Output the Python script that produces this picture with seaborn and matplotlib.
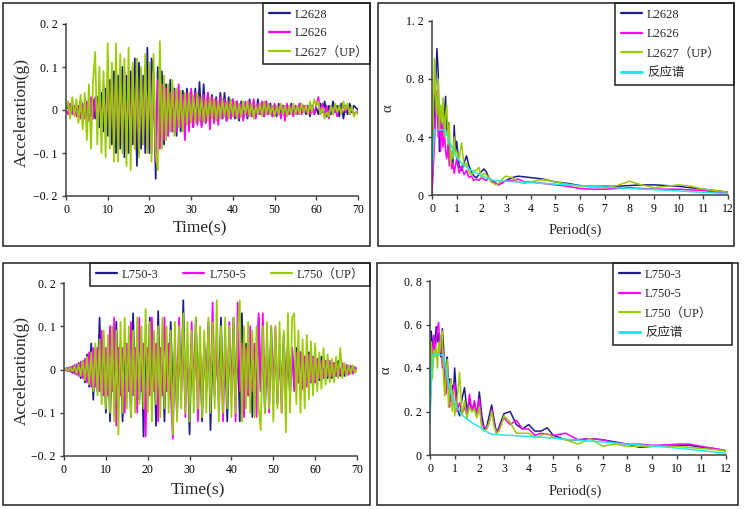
import numpy as np
import pandas as pd
import matplotlib
matplotlib.use("Agg")
import matplotlib.pyplot as plt
import matplotlib.ticker as mticker
from matplotlib.patches import Rectangle
import seaborn as sns

# ── data: accelerograms (sampled every 0.5 s, 0-70 s) ─────────────────────────
TIME_S = np.arange(0, 70.01, 0.5)

L2628 = [
    0.0, 0.01, -0.01, 0.015, -0.01, 0.01, -0.015, 0.02, -0.01, 0.015,
    -0.02, 0.02, -0.015, 0.025, -0.02, 0.03, -0.04, 0.04, -0.05, 0.05,
    -0.06, 0.07, -0.08, 0.09, -0.1, 0.08, -0.09, 0.1, -0.11, 0.08,
    -0.1, 0.09, -0.08, 0.12, -0.13, 0.11, -0.09, 0.08, -0.1, 0.145,
    -0.1, 0.12, 0.08, -0.16, 0.1, -0.07, 0.09, -0.08, 0.06, -0.06,
    0.07, -0.05, 0.05, -0.06, 0.04, -0.05, 0.045, -0.035, 0.05, -0.04,
    0.045, -0.04, 0.05, -0.03, 0.065, -0.035, 0.06, -0.03, 0.04, -0.03,
    0.035, -0.03, 0.03, -0.025, 0.04, -0.02, 0.04, -0.025, 0.03, -0.02,
    0.025, -0.02, 0.02, -0.025, 0.02, -0.02, 0.015, -0.02, 0.025, -0.015,
    0.02, -0.015, 0.025, -0.01, 0.015, -0.015, 0.02, -0.01, 0.015, -0.015,
    0.01, -0.015, 0.015, -0.01, 0.01, -0.015, 0.01, -0.01, 0.015, -0.01,
    0.01, -0.01, 0.015, -0.005, 0.01, -0.01, 0.01, -0.015, 0.01, -0.01,
    0.005, -0.01, 0.015, -0.005, 0.02, -0.015, 0.01, -0.01, 0.02, -0.005,
    0.01, -0.015, 0.015, -0.02, 0.01, -0.01, 0.015, -0.005, 0.01, 0.005,
    0.0,
]
L2626 = [
    0.0, -0.01, 0.015, -0.01, 0.01, -0.015, 0.01, -0.02, 0.015, -0.02,
    0.02, -0.025, 0.03, -0.02, 0.03, -0.035, 0.04, -0.05, 0.06, -0.05,
    0.07, -0.06, 0.08, -0.07, 0.1, -0.09, 0.075, -0.08, 0.09, -0.1,
    0.08, -0.07, 0.1, -0.09, 0.08, -0.1, 0.09, -0.08, 0.1, -0.09,
    0.09, -0.1, 0.08, -0.12, 0.07, -0.09, 0.06, -0.07, 0.05, -0.06,
    0.04, -0.05, 0.045, -0.05, 0.06, -0.04, 0.035, -0.07, 0.04, -0.05,
    0.05, -0.04, 0.04, -0.035, 0.03, -0.04, 0.035, -0.03, 0.04, -0.045,
    0.03, -0.03, 0.025, -0.035, 0.03, -0.02, 0.025, -0.025, 0.02, -0.02,
    0.025, -0.015, 0.02, -0.02, 0.015, -0.025, 0.02, -0.015, 0.02, -0.015,
    0.025, -0.02, 0.015, -0.01, 0.02, -0.015, 0.02, -0.01, 0.01, -0.015,
    0.015, -0.01, 0.01, -0.02, 0.01, -0.025, 0.015, -0.01, 0.01, -0.015,
    0.01, -0.01, 0.015, -0.01, 0.01, -0.005, 0.01, -0.01, 0.005, -0.01,
    0.01, 0.03, -0.01, 0.015, -0.015, 0.01, -0.02, 0.01, -0.01, 0.005,
    -0.015, 0.01, -0.01, 0.015, -0.005, 0.01, -0.01, 0.005, -0.01, -0.005,
    -0.005,
]
L2627_UP = [
    0.0, 0.02, -0.02, 0.03, -0.015, 0.025, -0.03, 0.035, -0.045, 0.04,
    -0.07, 0.06, -0.09, 0.07, 0.135, -0.08, 0.1, -0.1, 0.09, -0.11,
    0.155, -0.09, 0.11, -0.12, 0.155, -0.12, 0.13, -0.1, 0.12, -0.13,
    0.145, -0.14, 0.11, -0.09, 0.12, -0.11, 0.1, -0.08, 0.13, -0.1,
    0.11, -0.12, 0.13, -0.1, -0.14, 0.16, -0.09, 0.08, -0.07, 0.06,
    -0.05, 0.07, -0.06, 0.05, -0.04, 0.045, -0.05, 0.04, -0.035, 0.04,
    -0.03, 0.035, -0.03, 0.04, -0.025, 0.03, -0.03, 0.025, -0.025, 0.03,
    -0.02, 0.025, -0.025, 0.02, -0.02, 0.025, -0.015, 0.02, -0.02, 0.025,
    -0.015, 0.02, -0.02, 0.015, -0.015, 0.02, -0.01, 0.02, -0.015, 0.015,
    -0.02, 0.01, -0.01, 0.015, -0.015, 0.02, -0.01, 0.015, -0.01, 0.01,
    -0.015, 0.01, -0.01, 0.015, -0.01, 0.01, -0.015, 0.01, -0.01, 0.015,
    -0.01, 0.01, -0.01, 0.015, -0.005, 0.01, -0.01, 0.02, -0.005, 0.025,
    0.01, 0.02, -0.01, 0.005, -0.02, -0.005, -0.015, 0.01, -0.01, 0.015,
    -0.005, 0.01, -0.01, 0.02, 0.0, 0.015, -0.01, 0.01, -0.015, -0.005,
    -0.01,
]

L750_3 = [
    0.0, 0.003, -0.004, 0.006, -0.008, 0.01, -0.012, 0.015, -0.02, 0.02,
    -0.03, 0.035, -0.04, 0.06, -0.07, 0.05, -0.05, 0.12, -0.06, 0.05,
    -0.1, 0.06, -0.12, 0.05, -0.06, 0.11, -0.05, 0.06, -0.12, 0.05,
    -0.06, 0.05, -0.11, 0.13, -0.06, 0.05, -0.07, 0.06, -0.155, 0.05,
    -0.06, 0.12, -0.05, 0.06, -0.13, 0.135, -0.06, 0.05, -0.12, 0.06,
    -0.05, 0.11, -0.06, 0.05, -0.11, 0.06, -0.05, 0.16, -0.06, 0.05,
    -0.15, 0.06, -0.05, 0.12, -0.06, 0.05, -0.12, 0.06, -0.05, 0.11,
    -0.14, 0.05, -0.06, 0.06, -0.05, 0.12, -0.06, 0.05, -0.12, 0.06,
    -0.05, 0.12, -0.06, 0.05, -0.12, 0.13, -0.05, 0.06, -0.06, 0.05,
    -0.11, 0.05, -0.06, 0.12, -0.05, 0.06, -0.1, 0.05, -0.06, 0.1,
    -0.05, 0.06, -0.08, 0.05, -0.05, 0.08, -0.05, 0.04, -0.06, 0.05,
    -0.04, 0.05, -0.03, 0.04, -0.04, 0.03, -0.03, 0.04, -0.03, 0.03,
    -0.03, 0.02, -0.025, 0.03, -0.02, 0.02, -0.02, 0.015, -0.02, 0.015,
    -0.015, 0.02, -0.015, 0.01, -0.015, 0.01, -0.01, 0.008, -0.008, 0.005,
    0.0,
]
L750_5 = [
    0.0, -0.002, 0.004, -0.005, 0.008, -0.01, 0.012, -0.015, 0.018, -0.02,
    0.025, -0.03, 0.04, -0.04, 0.05, -0.04, 0.05, -0.05, 0.09, -0.06,
    0.05, -0.06, 0.1, -0.05, 0.12, -0.13, 0.05, -0.06, 0.05, -0.1,
    0.06, -0.05, 0.11, -0.06, 0.05, -0.1, 0.12, -0.05, 0.06, -0.155,
    0.05, -0.06, 0.12, -0.05, 0.06, -0.12, 0.05, -0.06, 0.12, -0.05,
    0.06, -0.05, -0.16, 0.05, -0.06, 0.12, -0.05, 0.06, -0.11, 0.05,
    -0.06, 0.11, -0.05, 0.06, -0.12, 0.05, -0.06, 0.06, -0.05, 0.1,
    -0.06, 0.155, -0.05, 0.06, -0.1, 0.05, -0.12, 0.06, -0.05, 0.11,
    -0.06, 0.05, -0.12, 0.155, -0.05, 0.06, -0.11, 0.05, -0.06, 0.1,
    -0.05, 0.06, -0.11, 0.13, -0.05, 0.13, -0.06, 0.05, -0.1, 0.06,
    -0.05, 0.1, -0.06, 0.05, -0.1, 0.05, -0.06, 0.07, -0.04, 0.05,
    -0.05, 0.04, -0.03, 0.04, -0.045, 0.03, -0.04, 0.035, -0.03, 0.03,
    -0.03, 0.025, -0.02, 0.02, -0.02, 0.02, -0.015, 0.02, -0.015, 0.015,
    -0.015, 0.01, -0.01, 0.015, -0.01, 0.01, -0.012, 0.008, -0.01, 0.005,
    0.0,
]
L750_UP = [
    0.0, 0.002, -0.003, 0.005, -0.005, 0.008, -0.01, 0.012, -0.015, 0.02,
    -0.025, 0.03, -0.035, 0.04, -0.05, 0.06, -0.06, 0.07, -0.08, 0.09,
    -0.09, 0.08, -0.1, 0.1, -0.12, 0.09, -0.15, 0.11, -0.1, 0.12,
    -0.09, 0.1, -0.11, 0.09, -0.1, 0.12, -0.08, 0.1, -0.09, 0.14,
    -0.1, 0.11, -0.12, 0.09, -0.08, 0.1, -0.11, 0.12, -0.09, 0.1,
    -0.1, 0.09, -0.15, 0.11, -0.12, 0.1, -0.09, 0.13, -0.1, 0.11,
    -0.12, 0.09, -0.1, 0.12, -0.09, 0.1, -0.11, 0.09, -0.1, 0.12,
    -0.1, 0.11, -0.09, 0.16, -0.12, 0.1, -0.1, 0.12, -0.09, 0.1,
    -0.11, 0.12, -0.1, 0.09, 0.16, -0.12, 0.1, -0.09, 0.11, -0.1,
    0.09, -0.11, 0.1, -0.09, -0.14, 0.1, -0.1, 0.11, -0.09, 0.1,
    -0.12, 0.1, -0.09, 0.11, -0.1, 0.09, -0.145, 0.13, -0.1, 0.12,
    0.13, -0.08, 0.09, -0.1, 0.07, -0.09, 0.08, -0.07, 0.065, -0.06,
    0.06, -0.05, 0.04, -0.045, 0.05, -0.035, 0.035, -0.03, 0.025, -0.03,
    0.03, -0.02, 0.05, -0.02, 0.015, -0.015, 0.01, -0.01, 0.01, -0.008,
    0.0,
]

# ── data: response spectra ────────────────────────────────────────────────────
PERIOD_S = [
    0.0, 0.05, 0.1, 0.15, 0.2, 0.25, 0.3, 0.35, 0.4, 0.45,
    0.5, 0.55, 0.6, 0.65, 0.7, 0.75, 0.8, 0.85, 0.9, 0.95,
    1.0,
    1.1, 1.2, 1.3, 1.4, 1.5, 1.6, 1.7, 1.8, 1.9, 2.0,
    2.1, 2.2, 2.3, 2.4, 2.5, 2.6, 2.7, 2.8, 2.9, 3.0,
    3.25, 3.5, 3.75, 4.0, 4.25, 4.5, 4.75, 5.0,
    5.5, 6.0, 6.5, 7.0, 7.5, 8.0, 8.5, 9.0, 9.5, 10.0, 10.5, 11.0, 11.5, 12.0,
]

SA_L2628 = [
    0.0, 0.35, 0.6, 0.78, 1.01, 0.85, 0.3, 0.55, 0.45, 0.35,
    0.55, 0.68, 0.42, 0.5, 0.35, 0.25, 0.3, 0.22, 0.48, 0.3,
    0.37,
    0.2, 0.17, 0.22, 0.27, 0.2, 0.16, 0.13, 0.12, 0.14, 0.16,
    0.18, 0.16, 0.12, 0.1, 0.09, 0.08, 0.07, 0.08, 0.09, 0.1,
    0.12, 0.13, 0.125, 0.12, 0.115, 0.11, 0.1, 0.09,
    0.08, 0.065, 0.06, 0.06, 0.06, 0.065, 0.07, 0.07, 0.065, 0.06, 0.05, 0.04, 0.03, 0.02,
]
SA_L2626 = [
    0.0, 0.18, 0.35, 0.55, 0.72, 0.4, 0.6, 0.3, 0.5, 0.33,
    0.45, 0.3, 0.25, 0.35, 0.2, 0.28, 0.18, 0.22, 0.15, 0.2,
    0.25,
    0.15, 0.2, 0.14, 0.17, 0.12, 0.13, 0.1, 0.11, 0.1, 0.12,
    0.11, 0.1, 0.12, 0.09, 0.1, 0.08, 0.07, 0.08, 0.09, 0.1,
    0.1, 0.11, 0.09, 0.09, 0.085, 0.08, 0.075, 0.07,
    0.06, 0.045, 0.04, 0.04, 0.045, 0.05, 0.045, 0.04, 0.04, 0.04, 0.035, 0.03, 0.02, 0.01,
]
SA_L2627_UP = [
    0.17, 0.5, 0.94, 0.7, 0.55, 0.8, 0.45, 0.62, 0.5, 0.67,
    0.4, 0.55, 0.62, 0.35, 0.5, 0.2, 0.3, 0.25, 0.4, 0.28,
    0.3,
    0.25, 0.36, 0.2, 0.22, 0.16, 0.14, 0.17, 0.17, 0.19, 0.12,
    0.15, 0.14, 0.12, 0.09, 0.08, 0.07, 0.08, 0.1, 0.12, 0.13,
    0.12, 0.09, 0.08, 0.09, 0.1, 0.105, 0.1, 0.09,
    0.075, 0.06, 0.055, 0.05, 0.065, 0.095, 0.07, 0.05, 0.06, 0.07, 0.06, 0.04, 0.03, 0.02,
]

SA_L750_3 = [
    0.18, 0.57, 0.48, 0.55, 0.5, 0.59, 0.52, 0.56, 0.48, 0.45,
    0.58, 0.5, 0.3, 0.42, 0.45, 0.3, 0.35, 0.25, 0.32, 0.28,
    0.4,
    0.22, 0.18, 0.26, 0.31, 0.2, 0.25, 0.2, 0.24, 0.18, 0.29,
    0.18, 0.12, 0.13, 0.18, 0.23, 0.16, 0.1, 0.13, 0.16, 0.19,
    0.2, 0.14, 0.12, 0.14, 0.11, 0.11, 0.125, 0.09,
    0.07, 0.07, 0.075, 0.07, 0.06, 0.05, 0.035, 0.04, 0.045, 0.045, 0.045, 0.035, 0.03, 0.02,
]
SA_L750_5 = [
    0.15, 0.5, 0.45, 0.55, 0.48, 0.52, 0.58, 0.61, 0.5, 0.55,
    0.4, 0.48, 0.35, 0.28, 0.4, 0.3, 0.22, 0.35, 0.26, 0.3,
    0.33,
    0.2, 0.24, 0.19, 0.22, 0.18, 0.28, 0.2, 0.25, 0.19, 0.26,
    0.14, 0.13, 0.12, 0.15, 0.21, 0.14, 0.1, 0.12, 0.15, 0.17,
    0.14, 0.16, 0.12, 0.12, 0.09, 0.1, 0.095, 0.09,
    0.1, 0.07, 0.075, 0.07, 0.055, 0.05, 0.05, 0.045, 0.045, 0.05, 0.05, 0.04, 0.03, 0.02,
]
SA_L750_UP = [
    0.15, 0.52, 0.35, 0.48, 0.45, 0.5, 0.4, 0.52, 0.47, 0.55,
    0.57, 0.35, 0.27, 0.38, 0.44, 0.22, 0.3, 0.35, 0.2, 0.3,
    0.18,
    0.25, 0.38, 0.18, 0.25, 0.17, 0.22, 0.2, 0.21, 0.17, 0.22,
    0.12, 0.11, 0.12, 0.15, 0.2, 0.13, 0.1, 0.11, 0.14, 0.18,
    0.15, 0.1, 0.1, 0.1, 0.08, 0.09, 0.1, 0.08,
    0.07, 0.05, 0.075, 0.04, 0.05, 0.04, 0.04, 0.04, 0.04, 0.04, 0.035, 0.03, 0.025, 0.02,
]

# design spectrum (反应谱)
DESIGN_PERIOD_S = [0.0, 0.1, 0.55, 0.6, 0.7, 0.8, 0.9, 1.0, 1.25, 1.5, 1.75, 2.0,
                   2.25, 2.5, 3.0, 4.0, 5.0, 6.0, 7.0, 8.0, 9.0, 10.0, 11.0, 12.0]
DESIGN_TOP = [0.16, 0.45, 0.45, 0.42, 0.37, 0.33, 0.29, 0.26, 0.21, 0.18, 0.155, 0.135,
              0.115, 0.1, 0.095, 0.085, 0.075, 0.065, 0.055, 0.045, 0.037, 0.028, 0.018, 0.01]
DESIGN_BOTTOM = [0.16, 0.46, 0.46, 0.42, 0.36, 0.31, 0.27, 0.24, 0.19, 0.165, 0.145, 0.13,
                 0.11, 0.095, 0.092, 0.085, 0.078, 0.068, 0.06, 0.05, 0.042, 0.032, 0.02, 0.008]

NAVY = "#1c1c8a"
MAGENTA = "#ff00ff"
GREEN = "#99cc00"
CYAN = "#22e8f2"
AXIS_GREY = "#404040"

W, H = 748, 509

sns.set_style("white")
plt.rcParams.update({
    "font.family": ["Liberation Serif", "Noto Sans CJK SC"],
    "font.size": 9,
    "axes.edgecolor": AXIS_GREY,
    "axes.linewidth": 1.1,
    "xtick.color": AXIS_GREY,
    "ytick.color": AXIS_GREY,
    "xtick.labelcolor": "black",
    "ytick.labelcolor": "black",
    "legend.fontsize": 9,
})


def px_axes(fig, left, top, right, bottom):
    return fig.add_axes([left / W, 1 - bottom / H, (right - left) / W, (bottom - top) / H])


def px_frame(fig, left, top, right, bottom):
    fig.patches.append(Rectangle((left / W, 1 - bottom / H), (right - left) / W, (bottom - top) / H,
                                 transform=fig.transFigure, fill=False, edgecolor="#202020",
                                 linewidth=1.1))


def cn_tick(v, pos):
    if abs(v) < 1e-9:
        return "0"
    s = f"{abs(v):.1f}".replace(".", ". ")
    return ("\u2212" if v < 0 else "") + s


def style_axes(ax):
    sns.despine(ax=ax)
    ax.tick_params(direction="out", length=3, width=1, pad=3, labelsize=8.5,
                   left=True, bottom=True)
    ax.set_facecolor("white")


def long_df(series, xname, yname):
    frames = [pd.DataFrame({xname: xv, yname: yv, "series": name}) for name, (xv, yv) in series.items()]
    return pd.concat(frames, ignore_index=True)


def place_legend(ax, box, ncol=1, spacing=0.55, pad=0.45):
    left, top, right, bottom = box
    handles, labels = ax.get_legend_handles_labels()
    for h in handles:
        h.set_linewidth(1.6)
    leg = ax.legend(handles, labels, loc="upper left", ncol=ncol, mode="expand",
                    bbox_to_anchor=(left / W, 1 - bottom / H, (right - left) / W, (bottom - top) / H),
                    bbox_transform=ax.figure.transFigure, borderaxespad=0,
                    handlelength=1.7, handletextpad=0.4, labelspacing=spacing,
                    borderpad=pad, fancybox=False, framealpha=1, edgecolor="#202020")
    leg.get_frame().set_linewidth(1.1)
    return leg


def accel_panel(ax, series, colors, legend_box, ncol):
    df = long_df(series, "time", "acc")
    sns.lineplot(data=df, x="time", y="acc", hue="series", palette=colors,
                 estimator=None, sort=False, linewidth=1.25, ax=ax)
    style_axes(ax)
    ax.set_xlim(0, 70)
    ax.set_ylim(-0.2, 0.2)
    ax.set_xticks(np.arange(0, 71, 10))
    ax.set_yticks([-0.2, -0.1, 0, 0.1, 0.2])
    ax.yaxis.set_major_formatter(mticker.FuncFormatter(cn_tick))
    ax.set_xlabel("Time(s)", fontsize=12.5)
    ax.set_ylabel("Acceleration(g)", fontsize=12.5)
    place_legend(ax, legend_box, ncol=ncol, spacing=0.55 if ncol == 1 else 0.3)


def spectrum_panel(ax, series, design, colors, ymax, yticks, legend_box):
    items = {name: (PERIOD_S, vals) for name, vals in series.items()}
    items["反应谱"] = (DESIGN_PERIOD_S, design)
    df = long_df(items, "period", "alpha")
    pal = dict(colors)
    pal["反应谱"] = CYAN
    sns.lineplot(data=df, x="period", y="alpha", hue="series", palette=pal,
                 estimator=None, sort=False, linewidth=1.1, ax=ax)
    ax.lines[-1].set_linewidth(2.0)
    style_axes(ax)
    ax.set_xlim(0, 12)
    ax.set_ylim(0, ymax)
    ax.set_xticks(np.arange(0, 13, 1))
    ax.set_yticks(yticks)
    ax.yaxis.set_major_formatter(mticker.FuncFormatter(cn_tick))
    ax.set_xlabel("Period(s)", fontsize=10.5)
    ax.set_ylabel("α", fontsize=10.5)
    leg = place_legend(ax, legend_box, spacing=0.6)
    leg.get_lines()[-1].set_linewidth(2.2)


fig = plt.figure(figsize=(W / 100, H / 100), dpi=100)
fig.patch.set_facecolor("white")

# ── top-left: L262x accelerograms ─────────────────────────────────────────────
ax1 = px_axes(fig, 66, 24, 358, 196)
accel_panel(ax1, {"L2628": (TIME_S, L2628), "L2626": (TIME_S, L2626), "L2627（UP）": (TIME_S, L2627_UP)},
            {"L2628": NAVY, "L2626": MAGENTA, "L2627（UP）": GREEN}, (263, 3, 370, 63), 1)
ax1.xaxis.set_label_coords(0.459, -0.14)
ax1.yaxis.set_label_coords(-0.125, 0.483)

# ── top-right: L262x spectra ──────────────────────────────────────────────────
ax2 = px_axes(fig, 432, 21, 728, 195)
spectrum_panel(ax2, {"L2628": SA_L2628, "L2626": SA_L2626, "L2627（UP）": SA_L2627_UP}, DESIGN_TOP,
               {"L2628": NAVY, "L2626": MAGENTA, "L2627（UP）": GREEN}, 1.2, [0, 0.4, 0.8, 1.2],
               (615, 3, 734, 88))
ax2.xaxis.set_label_coords(0.483, -0.165)
ax2.yaxis.set_label_coords(-0.125, 0.5)

# ── bottom-left: L750 accelerograms ───────────────────────────────────────────
ax3 = px_axes(fig, 64, 283, 357, 456)
accel_panel(ax3, {"L750-3": (TIME_S, L750_3), "L750-5": (TIME_S, L750_5), "L750（UP）": (TIME_S, L750_UP)},
            {"L750-3": NAVY, "L750-5": MAGENTA, "L750（UP）": GREEN}, (90, 263, 370, 296), 3)
ax3.xaxis.set_label_coords(0.457, -0.155)
ax3.yaxis.set_label_coords(-0.118, 0.497)

# ── bottom-right: L750 spectra ────────────────────────────────────────────────
ax4 = px_axes(fig, 430, 281, 726, 455)
spectrum_panel(ax4, {"L750-3": SA_L750_3, "L750-5": SA_L750_5, "L750（UP）": SA_L750_UP}, DESIGN_BOTTOM,
               {"L750-3": NAVY, "L750-5": MAGENTA, "L750（UP）": GREEN}, 0.8, [0, 0.2, 0.4, 0.6, 0.8],
               (613, 263, 732, 348))
ax4.xaxis.set_label_coords(0.49, -0.17)
ax4.yaxis.set_label_coords(-0.128, 0.49)

for box in [(3, 3, 370, 246), (378, 3, 734, 246), (3, 263, 370, 505), (377, 263, 738, 505)]:
    px_frame(fig, *box)

fig.savefig("out.png", dpi=100)
